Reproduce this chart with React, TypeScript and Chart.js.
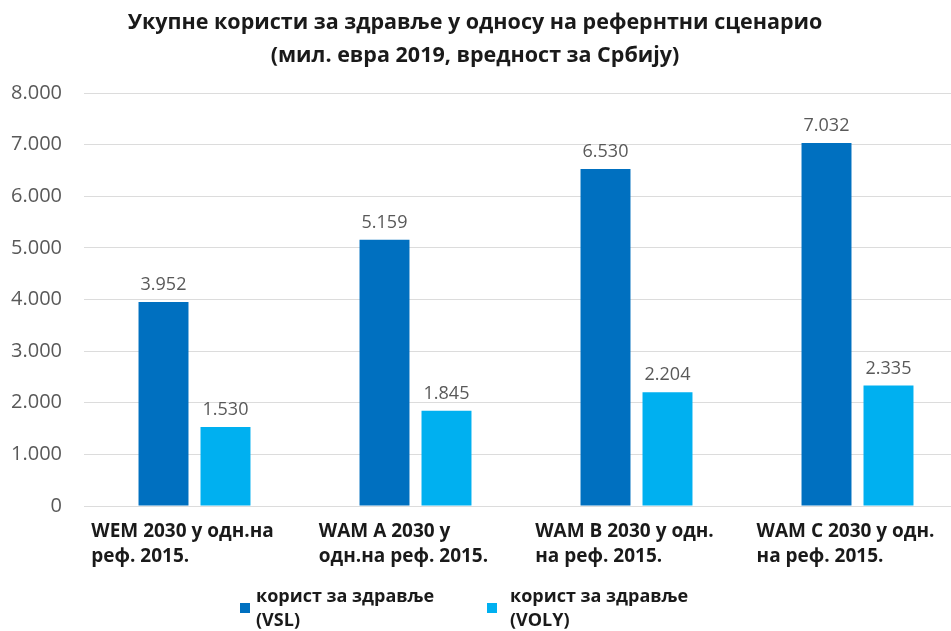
import React, { useEffect, useRef } from "react";
import { Chart, registerables } from "chart.js";

Chart.register(...registerables);

const titleLines = [
  "Укупне користи за здравље у односу на рефернтни сценарио",
  "(мил. евра 2019, вредност за Србију)",
];
const categories: string[][] = [
  ["WEM 2030 у одн.на", "реф. 2015."],
  ["WAM A 2030 у", "одн.на реф. 2015."],
  ["WAM B 2030 у одн.", "на реф. 2015."],
  ["WAM C 2030 у одн.", "на реф. 2015."],
];
const seriesNames: string[][] = [
  ["корист за здравље", "(VSL)"],
  ["корист за здравље", "(VOLY)"],
];
const vslValues = [3952, 5159, 6530, 7032];
const volyValues = [1530, 1845, 2204, 2335];
const yTicks = [0, 1000, 2000, 3000, 4000, 5000, 6000, 7000, 8000];

const COLORS = ["#0070C0", "#00B0F0"];
const FONT = '"Open Sans", sans-serif';

function fmt(v: number): string {
  return String(Math.round(v)).replace(/\B(?=(\d{3})+(?!\d))/g, ".");
}

const drawPlugin = {
  id: "customDraw",
  afterDraw(chart: any) {
    const ctx = chart.ctx as CanvasRenderingContext2D;
    ctx.save();
    // title
    ctx.fillStyle = "#1a1a1a";
    ctx.font = `bold 21.5px ${FONT}`;
    ctx.textAlign = "center";
    ctx.textBaseline = "middle";
    ctx.fillText(titleLines[0], 475, 23);
    ctx.fillText(titleLines[1], 475, 56);

    // data labels
    ctx.font = `18px ${FONT}`;
    ctx.fillStyle = "#595959";
    ctx.textBaseline = "bottom";
    chart.data.datasets.forEach((ds: any, di: number) => {
      const meta = chart.getDatasetMeta(di);
      meta.data.forEach((el: any, i: number) => {
        ctx.fillText(fmt(ds.data[i]), el.x, el.y - 8);
      });
    });

    // x labels
    const xs = chart.scales.x;
    ctx.font = `bold 19px ${FONT}`;
    ctx.fillStyle = "#1a1a1a";
    ctx.textAlign = "left";
    ctx.textBaseline = "middle";
    categories.forEach((lines, i) => {
      const cx = xs.getPixelForValue(i);
      const w = Math.max(...lines.map((l) => ctx.measureText(l).width));
      const left = cx - w / 2 - 12;
      lines.forEach((l, li) => {
        ctx.fillText(l, left, chart.chartArea.bottom + 26 + li * 25);
      });
    });

    // legend
    const legendX = [240, 487];
    ctx.font = `bold 18px ${FONT}`;
    seriesNames.forEach((lines, i) => {
      ctx.fillStyle = COLORS[i];
      ctx.fillRect(legendX[i], 603, 10, 10);
      ctx.fillStyle = "#1a1a1a";
      lines.forEach((l, li) => {
        ctx.fillText(l, legendX[i] + 16 + (i === 1 ? 7 : 0), 597 + li * 24);
      });
    });
    ctx.restore();
  },
};

export default function App() {
  const ref = useRef<HTMLCanvasElement>(null);
  useEffect(() => {
    document.body.style.margin = "0";
    if (!ref.current) return;
    const chart = new Chart(ref.current, {
      type: "bar",
      data: {
        labels: categories.map((c) => c.join(" ")),
        datasets: [
          {
            label: seriesNames[0].join(" "),
            data: vslValues,
            backgroundColor: COLORS[0],
            categoryPercentage: 0.561,
            barPercentage: 0.806,
          },
          {
            label: seriesNames[1].join(" "),
            data: volyValues,
            backgroundColor: COLORS[1],
            categoryPercentage: 0.561,
            barPercentage: 0.806,
          },
        ],
      },
      options: {
        responsive: false,
        animation: false,
        layout: { padding: { top: 93, right: 7, bottom: 0, left: 0 } },
        plugins: {
          legend: { display: false },
          title: { display: false },
          tooltip: { enabled: false },
        },
        scales: {
          x: {
            grid: { display: false },
            border: { display: false },
            ticks: { display: false },
            afterFit: (s: any) => {
              s.height = 125;
            },
          },
          y: {
            min: 0,
            max: 8000,
            afterBuildTicks: (s: any) => {
              s.ticks = yTicks.map((v) => ({ value: v }));
            },
            grid: { color: "#dcdcdc", lineWidth: 1, drawTicks: false },
            border: { display: false },
            ticks: {
              padding: 22,
              color: "#595959",
              font: { family: FONT, size: 20 },
              callback: (v: any) => fmt(Number(v)),
            },
            afterFit: (s: any) => {
              s.width = 84;
            },
          },
        },
      },
      plugins: [drawPlugin],
    });
    return () => chart.destroy();
  }, []);
  return (
    <div
      style={{
        position: "relative",
        width: 951,
        height: 631,
        overflow: "hidden",
        background: "#fff",
      }}
    >
      <canvas
        ref={ref}
        width={975}
        height={631}
        style={{ position: "absolute", left: 0, top: 0, display: "block" }}
      />
    </div>
  );
}
